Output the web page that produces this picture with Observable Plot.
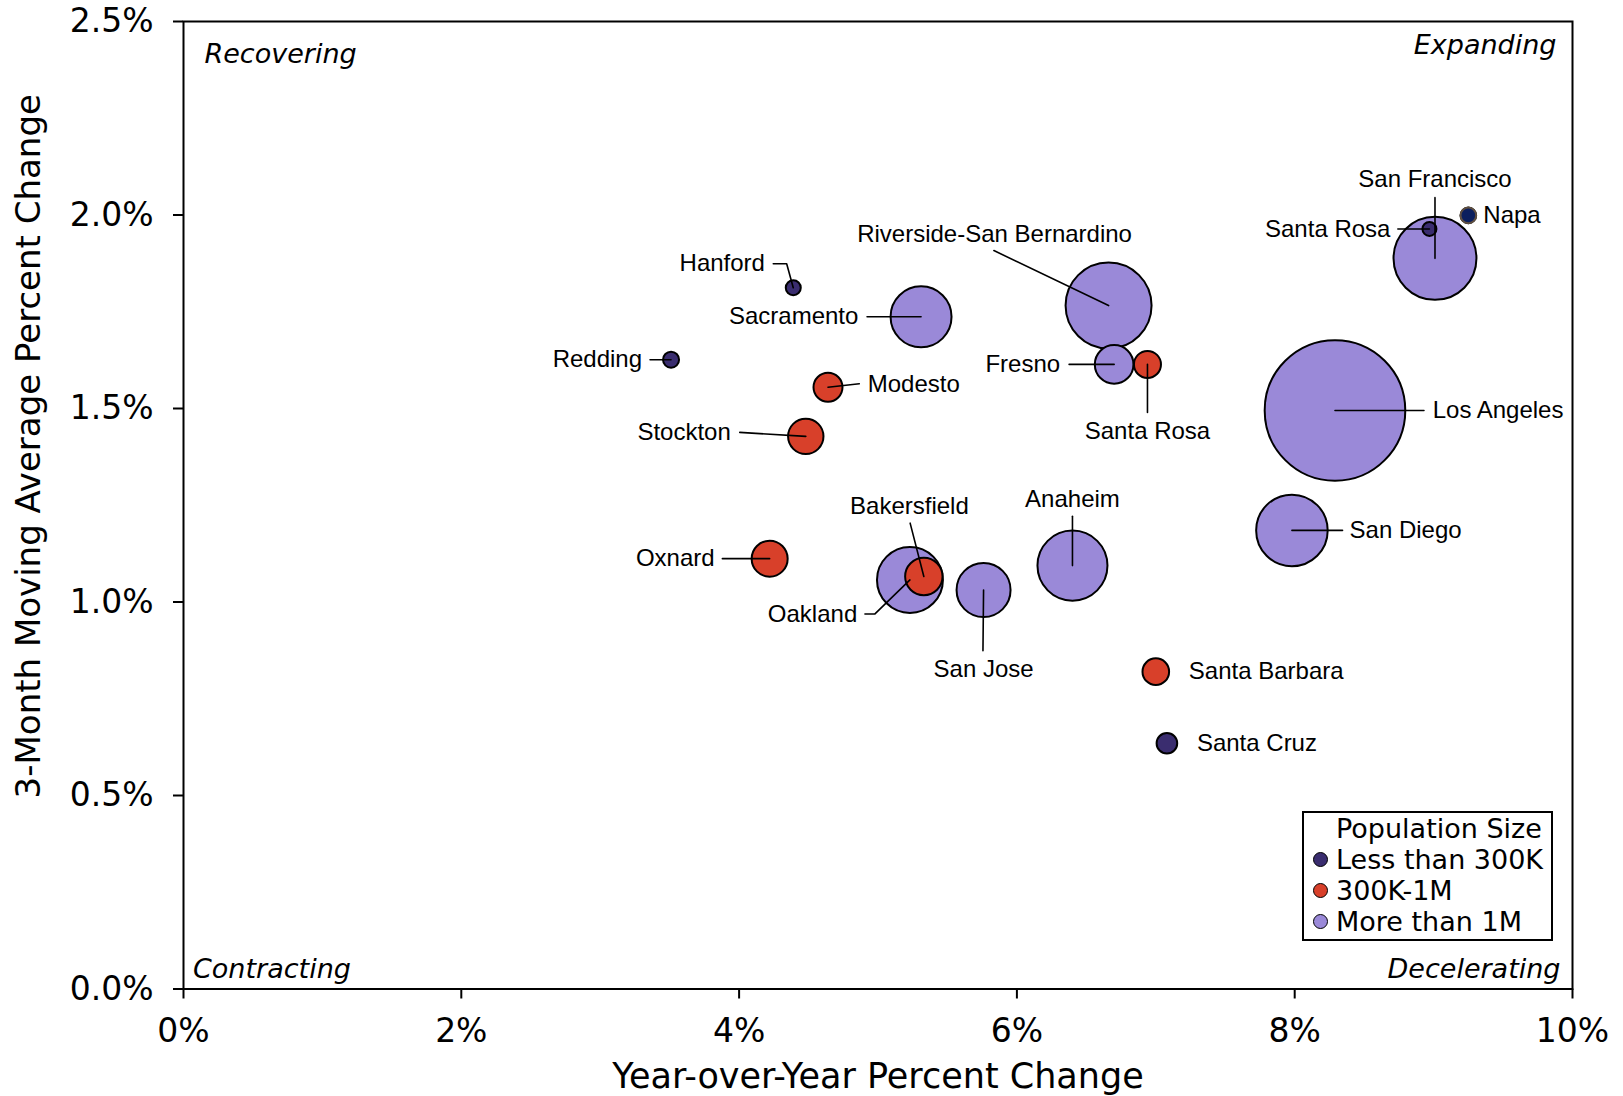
<!DOCTYPE html>
<html>
<head>
<meta charset="utf-8">
<script src="https://cdn.jsdelivr.net/npm/d3@7"></script>
<script src="https://cdn.jsdelivr.net/npm/@observablehq/plot@0.6"></script>
<style>
  html, body { margin: 0; padding: 0; background: #fff; }
  #wrap { position: relative; width: 1623px; height: 1096px; }
  #legend {
    position: absolute; left: 1302px; top: 811px; width: 251px; height: 130px;
    box-sizing: border-box; border: 2px solid #000; background: #fff;
    font-family: "DejaVu Sans", sans-serif; font-size: 27px; line-height: 31px; color: #000;
  }
  #legend .row { display: flex; align-items: center; white-space: nowrap; }
  #legend .sw { width: 32px; display: flex; justify-content: center; }
  #legend .sw span { width: 13px; height: 13px; border-radius: 50%; border: 1.5px solid #000; display: inline-block; margin-left: 1px; }
</style>
</head>
<body>
<div id="wrap"></div>
<script>
// ---- data ----
const cities = ["Los Angeles","Riverside-San Bernardino","San Francisco","San Diego","Anaheim","Oakland","Sacramento","San Jose","Fresno","Bakersfield","Oxnard","Stockton","Modesto","Santa Rosa","Santa Barbara","Santa Cruz","Redding","Hanford","Santa Rosa","Napa"];
const yoyChange = [8.29, 6.66, 9.01, 7.98, 6.40, 5.23, 5.31, 5.76, 6.70, 5.33, 4.22, 4.48, 4.64, 6.94, 7.00, 7.08, 3.51, 4.39, 8.97, 9.25];
const movingAvgChange = [1.495, 1.766, 1.888, 1.185, 1.094, 1.057, 1.737, 1.031, 1.614, 1.066, 1.112, 1.428, 1.555, 1.614, 0.820, 0.635, 1.626, 1.812, 1.964, 1.999];
const populationM = [10.0, 3.74, 3.48, 2.59, 2.48, 2.20, 1.88, 1.475, 0.754, 0.708, 0.656, 0.634, 0.425, 0.369, 0.358, 0.215, 0.13, 0.114, 0.099, 0.123];
const sizeClass = ["More than 1M","More than 1M","More than 1M","More than 1M","More than 1M","More than 1M","More than 1M","More than 1M","More than 1M",
  "300K-1M","300K-1M","300K-1M","300K-1M","300K-1M","300K-1M",
  "Less than 300K","Less than 300K","Less than 300K","Less than 300K","Less than 300K"];
const classNames = ["Less than 300K","300K-1M","More than 1M"];
const classColors = ["#3a2d6f","#d8402a","#9a89d8"];
const xTicks = [0, 2, 4, 6, 8, 10];
const yTicks = [0, 0.5, 1.0, 1.5, 2.0, 2.5];
const quadrants = ["Recovering","Expanding","Contracting","Decelerating"];

// ---- label layout (pixel offsets from each bubble centre) ----
// [textDx, textDy, anchor, leader polyline points]
const labelLayout = [
  [97.7, 0, "start", [[89, 0]]],
  [-114, -71, "middle", [[-114.7, -55]]],
  [0, -79, "middle", [[0, -60.7]]],
  [57.6, 0, "start", [[50.6, 0]]],
  [0, -66, "middle", [[0, -49.3]]],
  [-52.7, 34, "end", [[-35, 34], [-45, 34]]],
  [-62.7, 0, "end", [[-54, 0]]],
  [0, 79, "middle", [[-0.6, 60.7]]],
  [-54, 0, "end", [[-45, 0]]],
  [-14.4, -70, "middle", [[-13.7, -53.3]]],
  [-55, 0, "end", [[-47.3, 0]]],
  [-75, -4, "end", [[-66, -4]]],
  [39.7, -3.4, "start", [[31.3, -3.4]]],
  [0, 67, "middle", [[0, 48]]],
  [33, 0, "start", []],
  [30, 0, "start", []],
  [-29, 0, "end", [[-21, 0]]],
  [-28.3, -24, "end", [[-6.6, -24], [-20, -24]]],
  [-39, 0, "end", [[-31.6, 0]]],
  [15, 0, "start", []]
];

const W = 1623, H = 1096;
const mL = 183, mR = 51, mT = 21, mB = 107.5;

const rows = cities.map((c, i) => ({
  city: c, x: yoyChange[i], y: movingAvgChange[i], pop: populationM[i], cls: sizeClass[i], i
}));

const xS = Plot.scale({x: {domain: [0, 10], range: [mL, W - mR]}});
const yS = Plot.scale({y: {domain: [0, 2.5], range: [H - mB, mT]}});

const leaderPts = [];
rows.forEach((d, i) => {
  const pts = labelLayout[i][3];
  if (!pts.length) return;
  const px = xS.apply(d.x), py = yS.apply(d.y);
  leaderPts.push({id: i, x: d.x, y: d.y});
  pts.forEach(([ox, oy]) => leaderPts.push({id: i, x: xS.invert(px + ox), y: yS.invert(py + oy)}));
});

const labelRows = rows.map((d, i) => {
  const [tx, ty, anchor] = labelLayout[i];
  return {...d, lx: xS.invert(xS.apply(d.x) + tx), ly: yS.invert(yS.apply(d.y) + ty), anchor};
});

const labelFont = {fontFamily: "Liberation Sans, Arial, sans-serif", fontSize: 24, fill: "#000"};
const quadFont = {fontFamily: "DejaVu Sans, sans-serif", fontSize: 27, fontStyle: "italic", fill: "#000", lineAnchor: "middle"};

const chart = Plot.plot({
  width: W, height: H,
  marginLeft: mL, marginRight: mR, marginTop: mT, marginBottom: mB,
  style: {fontFamily: "DejaVu Sans, sans-serif", fontSize: "33px", color: "#000", background: "#fff"},
  x: {domain: [0, 10], ticks: xTicks, tickFormat: d => d + "%", label: null},
  y: {domain: [0, 2.5], ticks: yTicks, tickFormat: d => d.toFixed(1) + "%", label: null},
  r: {type: "sqrt", domain: [0, 10], range: [0, 70.3]},
  color: {domain: classNames, range: classColors},
  marks: [
    Plot.axisX({ticks: xTicks, tickFormat: d => d + "%", tickSize: 10, tickPadding: 20, strokeWidth: 2, fontSize: 33, label: null}),
    Plot.axisY({ticks: yTicks, tickFormat: d => d.toFixed(1) + "%", tickSize: 10, tickPadding: 20, strokeWidth: 2, fontSize: 33, label: null}),
    Plot.dot(rows, {x: "x", y: "y", r: "pop", fill: "cls", stroke: "#000", strokeWidth: 2, fillOpacity: 1}),
    Plot.dot(rows.filter(d => d.city === "Napa"), {x: "x", y: "y", r: "pop", fill: "#0b1f5e", stroke: "#5e4e40", strokeWidth: 2}),
    Plot.line(leaderPts, {x: "x", y: "y", z: "id", stroke: "#000", strokeWidth: 1.6, curve: "linear"}),
    Plot.text(labelRows.filter(d => d.anchor === "start"), {x: "lx", y: "ly", text: "city", textAnchor: "start", lineAnchor: "middle", ...labelFont}),
    Plot.text(labelRows.filter(d => d.anchor === "middle"), {x: "lx", y: "ly", text: "city", textAnchor: "middle", lineAnchor: "middle", ...labelFont}),
    Plot.text(labelRows.filter(d => d.anchor === "end"), {x: "lx", y: "ly", text: "city", textAnchor: "end", lineAnchor: "middle", ...labelFont}),
    Plot.text([quadrants[0]], {frameAnchor: "top-left", textAnchor: "start", dx: 21, dy: 33, ...quadFont}),
    Plot.text([quadrants[1]], {frameAnchor: "top-right", textAnchor: "end", dx: -16, dy: 24, ...quadFont}),
    Plot.text([quadrants[2]], {frameAnchor: "bottom-left", textAnchor: "start", dx: 9.5, dy: -19.5, ...quadFont}),
    Plot.text([quadrants[3]], {frameAnchor: "bottom-right", textAnchor: "end", dx: -12, dy: -19.5, ...quadFont}),
    Plot.text(["Year-over-Year Percent Change"], {frameAnchor: "bottom", dy: 88, lineAnchor: "middle", fontFamily: "DejaVu Sans, sans-serif", fontSize: 35, fill: "#000"}),
    Plot.text(["3-Month Moving Average Percent Change"], {frameAnchor: "left", rotate: -90, dx: -154, dy: -59, lineAnchor: "middle", textAnchor: "middle", fontFamily: "DejaVu Sans, sans-serif", fontSize: 34, fill: "#000"}),
    Plot.frame({stroke: "#000", strokeWidth: 2})
  ]
});

const wrap = document.getElementById("wrap");
wrap.appendChild(chart);

// legend
const legend = document.createElement("div");
legend.id = "legend";
const title = document.createElement("div");
title.className = "row";
title.innerHTML = '<div class="sw"></div><div>Population Size</div>';
legend.appendChild(title);
classNames.forEach((name, i) => {
  const r = document.createElement("div");
  r.className = "row";
  const sw = document.createElement("div");
  sw.className = "sw";
  const dot = document.createElement("span");
  dot.style.background = classColors[i];
  sw.appendChild(dot);
  const t = document.createElement("div");
  t.textContent = name;
  r.appendChild(sw); r.appendChild(t);
  legend.appendChild(r);
});
wrap.appendChild(legend);
</script>
</body>
</html>
